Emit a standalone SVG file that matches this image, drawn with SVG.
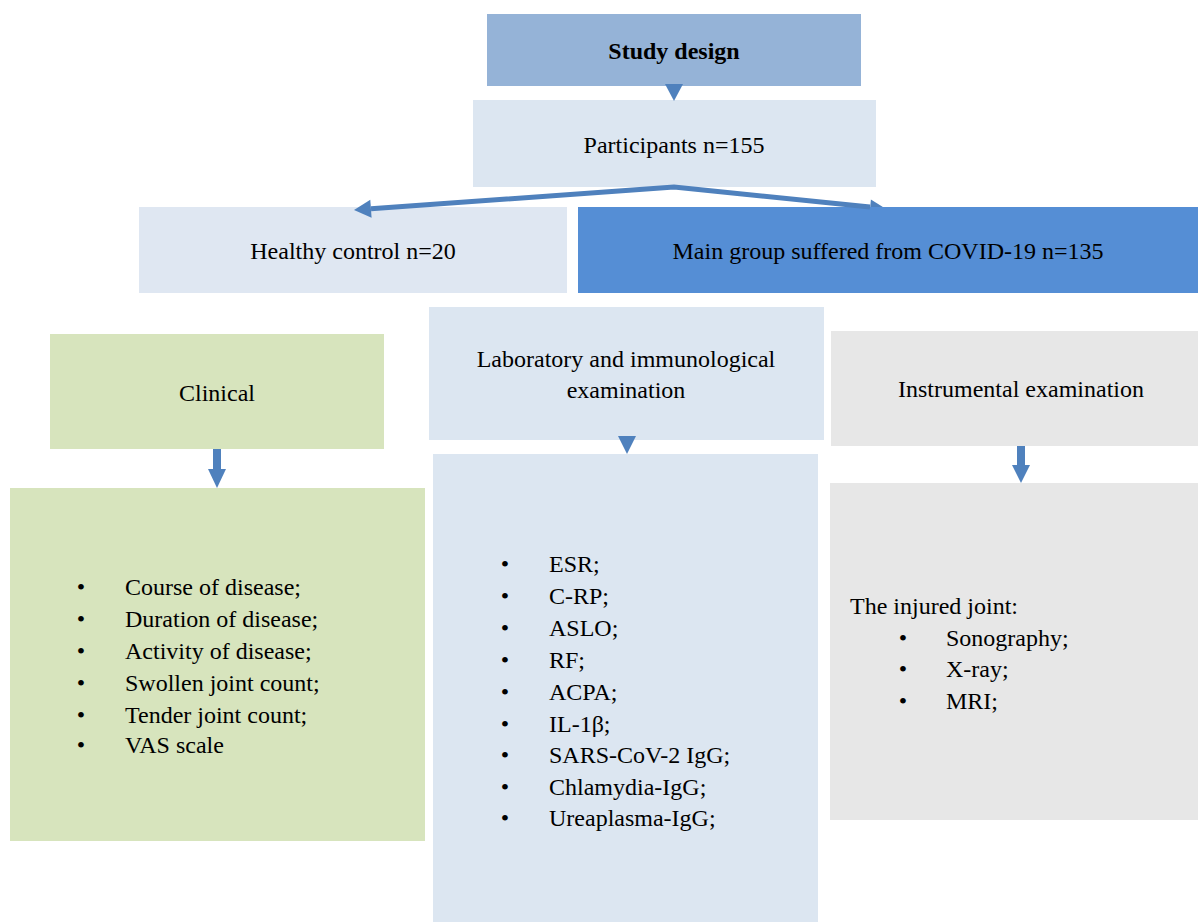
<svg xmlns="http://www.w3.org/2000/svg" width="1198" height="922" viewBox="0 0 1198 922">
<style>
text{font-family:"Liberation Serif","Times New Roman",serif;font-size:24px;fill:#000}
.c{text-anchor:middle}
.b{font-weight:bold}
.arrow{fill:#4f81bd}
.line{fill:none;stroke:#4f81bd;stroke-width:5;stroke-linejoin:miter}
</style>
<rect width="1198" height="922" fill="#ffffff"/>
<g id="study-design">
<rect x="487" y="14" width="374" height="72" fill="#95b3d7"/>
<text class="c b" x="674" y="59">Study design</text>
</g>
<g id="participants">
<rect x="473" y="100" width="403" height="87" fill="#dce6f1"/>
<text class="c" x="674" y="153">Participants n=155</text>
</g>
<g id="healthy-control">
<rect x="139" y="207" width="428" height="86" fill="#dfe7f2"/>
<text class="c" x="353" y="259">Healthy control n=20</text>
</g>
<g id="main-group">
<rect x="578" y="207" width="620" height="86" fill="#558ed5"/>
<text class="c" x="888" y="259">Main group suffered from COVID-19 n=135</text>
</g>
<g id="clinical">
<rect x="50" y="334" width="334" height="115" fill="#d7e4bd"/>
<text class="c" x="217" y="401">Clinical</text>
</g>
<g id="clinical-list">
<rect x="10" y="488" width="415" height="353" fill="#d7e4bd"/>
<g>
<text x="81" y="595" class="c">•</text><text x="125" y="595">Course of disease;</text>
<text x="81" y="627" class="c">•</text><text x="125" y="627">Duration of disease;</text>
<text x="81" y="659" class="c">•</text><text x="125" y="659">Activity of disease;</text>
<text x="81" y="691" class="c">•</text><text x="125" y="691">Swollen joint count;</text>
<text x="81" y="723" class="c">•</text><text x="125" y="723">Tender joint count;</text>
<text x="81" y="753" class="c">•</text><text x="125" y="753">VAS scale</text>
</g>
</g>
<g id="laboratory">
<rect x="429" y="307" width="395" height="133" fill="#dce6f1"/>
<text class="c" x="626" y="367">Laboratory and immunological</text>
<text class="c" x="626" y="398">examination</text>
</g>
<g id="laboratory-list">
<rect x="433" y="454" width="385" height="468" fill="#dce6f1"/>
<text x="505" y="572" class="c">•</text><text x="549" y="572">ESR;</text>
<text x="505" y="604" class="c">•</text><text x="549" y="604">C-RP;</text>
<text x="505" y="636" class="c">•</text><text x="549" y="636">ASLO;</text>
<text x="505" y="668" class="c">•</text><text x="549" y="668">RF;</text>
<text x="505" y="700" class="c">•</text><text x="549" y="700">ACPA;</text>
<text x="505" y="732" class="c">•</text><text x="549" y="732">IL-1β;</text>
<text x="505" y="763" class="c">•</text><text x="549" y="763">SARS-CoV-2 IgG;</text>
<text x="505" y="795" class="c">•</text><text x="549" y="795">Chlamydia-IgG;</text>
<text x="505" y="826" class="c">•</text><text x="549" y="826">Ureaplasma-IgG;</text>
</g>
<g id="instrumental">
<rect x="831" y="331" width="367" height="115" fill="#e7e7e7"/>
<text class="c" x="1021" y="397">Instrumental examination</text>
</g>
<g id="instrumental-list">
<rect x="830" y="483" width="368" height="337" fill="#e7e7e7"/>
<text x="850" y="614">The injured joint:</text>
<text x="903" y="646" class="c">•</text><text x="946" y="646">Sonography;</text>
<text x="903" y="677" class="c">•</text><text x="946" y="677">X-ray;</text>
<text x="903" y="709" class="c">•</text><text x="946" y="709">MRI;</text>
</g>
<g id="connectors">
<polygon class="arrow" points="665,84 683,84 674,101"/>
<polyline class="line" points="371,208.8 674,187 870,207"/>
<polygon class="arrow" points="354,210 370.3,199.8 371.6,217.8"/>
<polygon class="arrow" points="870.9,199.4 882.9,207 870.2,207"/>
<rect class="arrow" x="213" y="449" width="8" height="21"/>
<polygon class="arrow" points="208,469 226,469 217,488"/>
<polygon class="arrow" points="618,436 636,436 627,454"/>
<rect class="arrow" x="1017" y="446" width="8" height="20"/>
<polygon class="arrow" points="1012,465 1030,465 1021,483"/>
</g>
</svg>
